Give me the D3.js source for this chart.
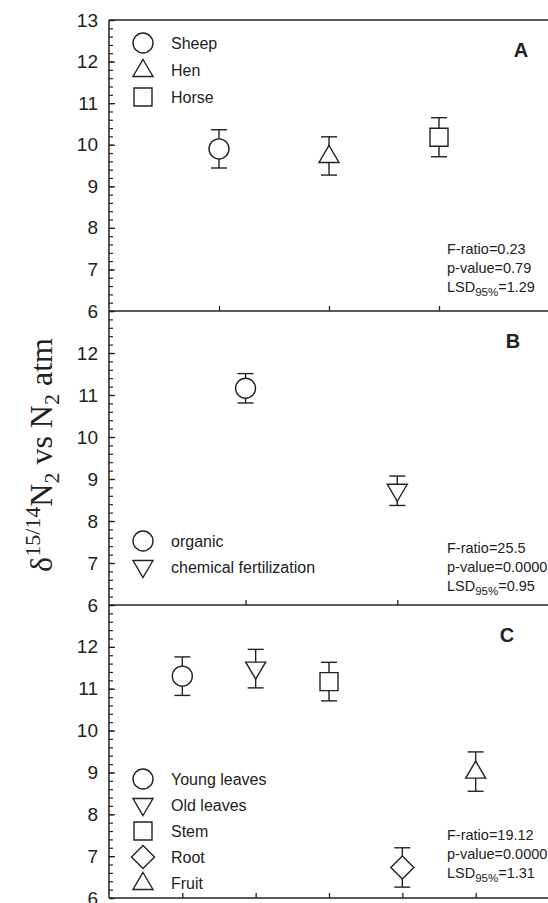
<!DOCTYPE html>
<html>
<head>
<meta charset="utf-8">
<script src="https://cdn.jsdelivr.net/npm/d3@7"></script>
<style>
  body { margin: 0; background: #fff; }
  text { font-family: "Liberation Sans", Arial, sans-serif; fill: #222; }
</style>
</head>
<body>
<div id="chart"></div>
<script>
// panel A: manure source
const namesA = ['Sheep', 'Hen', 'Horse'];
const shapesA = ['circle', 'triangleUp', 'square'];
const meanA = [9.90, 9.73, 10.18];
const errA = [0.46, 0.46, 0.47];
const statsA = ['0.23', '0.79', '1.29'];

// panel B: fertilization
const namesB = ['organic', 'chemical fertilization'];
const shapesB = ['circle', 'triangleDown'];
const meanB = [11.16, 8.72];
const errB = [0.35, 0.35];
const statsB = ['25.5', '0.0000', '0.95'];

// panel C: plant organ
const namesC = ['Young leaves', 'Old leaves', 'Stem', 'Root', 'Fruit'];
const shapesC = ['circle', 'triangleDown', 'square', 'diamond', 'triangleUp'];
const meanC = [11.30, 11.48, 11.17, 6.73, 9.02];
const errC = [0.46, 0.46, 0.46, 0.47, 0.47];
const statsC = ['19.12', '0.0000', '1.31'];

const yTicks = [6, 7, 8, 9, 10, 11, 12];

const width = 548, height = 903;
const left = 109, right = 549;
const ink = '#222';

const svg = d3.select('#chart').append('svg')
  .attr('width', width)
  .attr('height', height);

const shapePath = {
  circle: 'M10,0A10,10 0 1,1 -10,0A10,10 0 1,1 10,0Z',
  triangleUp: 'M0,-10.5L10,6.5L-10,6.5Z',
  triangleDown: 'M0,10.5L10,-6.5L-10,-6.5Z',
  square: 'M-9,-9H9V9H-9Z',
  diamond: 'M0,-11.5L11.5,0L0,11.5L-11.5,0Z'
};

const panels = [
  { names: namesA, shapes: shapesA, mean: meanA, err: errA, stats: statsA, label: 'A',
    top: 20, bottom: 311, xDomain: [0, 4], labelX: 521, legendY: 43, legendStep: 27, statsY: 254 },
  { names: namesB, shapes: shapesB, mean: meanB, err: errB, stats: statsB, label: 'B',
    top: 311, bottom: 605, xDomain: [0.1, 3], labelX: 513, legendY: 541, legendStep: 26, statsY: 553 },
  { names: namesC, shapes: shapesC, mean: meanC, err: errC, stats: statsC, label: 'C',
    top: 605, bottom: 898, xDomain: [0, 6], labelX: 507, legendY: 779, legendStep: 26, statsY: 840 }
];

panels.forEach((p, pi) => {
  const x = d3.scaleLinear().domain(p.xDomain).range([left, right]);
  const y = d3.scaleLinear().domain([6, 13]).range([p.bottom, p.top]);
  const g = svg.append('g');

  // minor ticks on the left axis
  const minor = d3.range(6, 13.01, 0.2).map(v => +v.toFixed(1));
  g.append('g')
    .attr('transform', 'translate(' + left + ',0)')
    .call(d3.axisRight(y).tickValues(minor).tickSize(4).tickFormat(''))
    .call(a => a.select('.domain').remove())
    .selectAll('line').attr('stroke', ink).attr('stroke-width', 1.2);

  // major ticks + labels
  const ticks = pi === 0 ? yTicks.concat([13]) : yTicks;
  const yAxis = g.append('g')
    .attr('transform', 'translate(' + left + ',0)')
    .call(d3.axisLeft(y).tickValues(ticks).tickSize(-6).tickPadding(11).tickFormat(d3.format('d')));
  yAxis.select('.domain').remove();
  yAxis.selectAll('line').attr('stroke', ink).attr('stroke-width', 1.3);
  yAxis.selectAll('text')
    .style('font-family', '"Liberation Sans", Arial, sans-serif')
    .style('font-size', '19px').attr('fill', ink);

  // bottom axis with inward ticks
  const n = p.mean.length;
  const xAxis = g.append('g')
    .attr('transform', 'translate(0,' + p.bottom + ')')
    .call(d3.axisBottom(x).tickValues(d3.range(1, n + 1)).tickSize(-5).tickFormat(''));
  xAxis.select('.domain').remove();
  xAxis.selectAll('line').attr('stroke', ink).attr('stroke-width', 1.3);

  g.append('line')
    .attr('x1', left).attr('x2', right)
    .attr('y1', p.bottom).attr('y2', p.bottom)
    .attr('stroke', ink).attr('stroke-width', 1.5);

  // error bars
  const idx = d3.range(n);
  const bars = g.selectAll('.err').data(idx).enter().append('g').attr('class', 'err');
  bars.append('line')
    .attr('x1', i => x(i + 1)).attr('x2', i => x(i + 1))
    .attr('y1', i => y(p.mean[i] + p.err[i])).attr('y2', i => y(p.mean[i] - p.err[i]));
  [1, -1].forEach(s => {
    bars.append('line')
      .attr('x1', i => x(i + 1) - 8).attr('x2', i => x(i + 1) + 8)
      .attr('y1', i => y(p.mean[i] + s * p.err[i])).attr('y2', i => y(p.mean[i] + s * p.err[i]));
  });
  bars.selectAll('line').attr('stroke', ink).attr('stroke-width', 1.4);

  // markers
  g.selectAll('.mark').data(idx).enter().append('path')
    .attr('class', 'mark')
    .attr('d', i => shapePath[p.shapes[i]])
    .attr('transform', i => 'translate(' + x(i + 1) + ',' + y(p.mean[i]) + ')')
    .attr('fill', '#fff').attr('stroke', ink).attr('stroke-width', 1.4);

  // legend
  const leg = g.selectAll('.leg').data(idx).enter().append('g')
    .attr('transform', i => 'translate(143,' + (p.legendY + i * p.legendStep) + ')');
  leg.append('path')
    .attr('d', i => shapePath[p.shapes[i]])
    .attr('fill', '#fff').attr('stroke', ink).attr('stroke-width', 1.4);
  leg.append('text')
    .attr('x', 28).attr('dy', '0.36em')
    .style('font-size', '16px')
    .text(i => p.names[i]);

  // panel letter
  g.append('text')
    .attr('x', p.labelX).attr('y', p.top + 37)
    .attr('text-anchor', 'middle')
    .style('font-size', '20px').style('font-weight', 'bold')
    .text(p.label);

  // statistics
  const st = g.append('g').style('font-size', '14.5px');
  st.append('text').attr('x', 447).attr('y', p.statsY).text('F-ratio=' + p.stats[0]);
  st.append('text').attr('x', 447).attr('y', p.statsY + 19).text('p-value=' + p.stats[1]);
  const lsd = st.append('text').attr('x', 447).attr('y', p.statsY + 38);
  lsd.append('tspan').text('LSD');
  lsd.append('tspan').attr('dy', 4).style('font-size', '11.5px').text('95%');
  lsd.append('tspan').attr('dy', -4).text('=' + p.stats[2]);
});

// frame: top edge and left axis line
svg.append('line')
  .attr('x1', left).attr('x2', right).attr('y1', 20).attr('y2', 20)
  .attr('stroke', ink).attr('stroke-width', 1.5);
svg.append('line')
  .attr('x1', left).attr('x2', left).attr('y1', 20).attr('y2', 898)
  .attr('stroke', ink).attr('stroke-width', 1.5);

// y axis title
const title = svg.append('text')
  .attr('transform', 'translate(52,455) rotate(-90)')
  .attr('text-anchor', 'middle')
  .style('font-family', '"Liberation Serif", "Times New Roman", serif')
  .style('font-size', '32px');
title.append('tspan').text('δ');
title.append('tspan').attr('dy', -12).style('font-size', '22px').text('15/14');
title.append('tspan').attr('dy', 12).text('N');
title.append('tspan').attr('dy', 7).style('font-size', '22px').text('2');
title.append('tspan').attr('dy', -7).text(' vs N');
title.append('tspan').attr('dy', 7).style('font-size', '22px').text('2');
title.append('tspan').attr('dy', -7).text(' atm');
</script>
</body>
</html>
